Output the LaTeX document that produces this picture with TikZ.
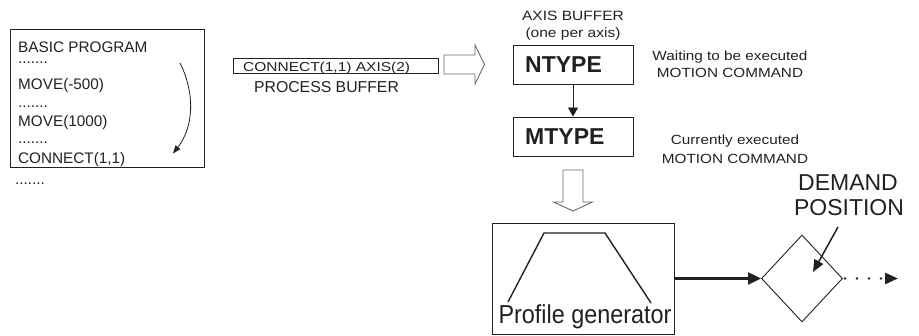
\documentclass[tikz,border=0pt]{standalone}
\usepackage{fontspec}
\setmainfont{Liberation Sans}
\newfontfamily\widesans[FakeStretch=1.15]{Liberation Sans}
\newfontfamily\widersans[FakeStretch=1.2]{Liberation Sans}
\newfontfamily\narrowsans[FakeStretch=0.9]{Liberation Sans}
\usetikzlibrary{shapes.geometric,arrows.meta}
\definecolor{ln}{gray}{0.13}
\definecolor{hollow}{gray}{0.42}
\newcommand{\myfs}[1]{\fontsize{#1pt}{#1pt}\selectfont}
\begin{document}
\begin{tikzpicture}[x=1pt,y=-1pt,
  every node/.style={text=ln},
  box/.style={draw=ln, line width=0.9pt, inner sep=0pt},
  progtxt/.style={anchor=base west, inner sep=0pt, font=\myfs{15.3}},
  lbl/.style={anchor=base, inner sep=0pt},
  thinarrow/.style={draw=ln, line width=0.9pt, -{Triangle[length=9pt,width=10pt]}},
  hollowarrow/.style={draw=hollow, line width=0.9pt, fill=white, line join=miter},
]
\useasboundingbox (0,0) rectangle (919,336);

% ---------- BASIC program ----------
\node[box, minimum width=194pt, minimum height=138pt] (prog) at (107,98) {};
\node[progtxt] (p1) at (18,52.3) {BASIC PROGRAM};
\node[progtxt] (p2) at (18,63.5) {.......};
\node[progtxt] (p3) at (18,90) {MOVE(-500)};
\node[progtxt] (p4) at (18,108) {.......};
\node[progtxt] (p5) at (18,126.7) {MOVE(1000)};
\node[progtxt] (p6) at (18,144) {.......};
\node[progtxt] (p7) at (18,163.3) {CONNECT(1,1)};
\node[progtxt] (p8) at (15,185) {.......};
\coordinate (cs) at (180,63);
\coordinate (ce) at (173,153.5);
\draw[draw=ln, line width=0.8pt, -{Triangle[length=8pt,width=6pt]}]
  (cs) .. controls (196,95) and (193,128) .. (ce);

% ---------- process buffer ----------
\node[box, minimum width=205pt, minimum height=14.5pt] (proc) at (335.5,66) {};
\node[anchor=base west, inner sep=0pt, font=\widersans\myfs{12.9}] (proctxt) at (243,71.6) {CONNECT(1,1) AXIS(2)};
\node[lbl, font=\myfs{15.8}] (pbl) at (326.5,92.7) {PROCESS BUFFER};

% hollow arrow to axis buffer
\coordinate (hr) at (444,64.5);
\draw[hollowarrow] (hr) ++(0,-9.5) -- ++(31,0) -- ++(0,-10) -- ++(9.5,19.5)
  -- ++(-9.5,19.5) -- ++(0,-10) -- ++(-31,0) -- cycle;

% ---------- axis buffer ----------
\node[lbl, font=\widesans\myfs{13.5}] (ab1) at (573,20.7) {AXIS BUFFER};
\node[lbl, font=\widesans\myfs{13.5}] (ab2) at (573,37.3) {(one per axis)};
\node[box, minimum width=120pt, minimum height=39pt] (ntype) at (573,64.5) {};
\node[anchor=west, inner sep=0pt, font=\bfseries\myfs{23}] (ntxt) at (525,65) {NTYPE};
\node[box, minimum width=120pt, minimum height=39pt] (mtype) at (573,136.5) {};
\node[anchor=west, inner sep=0pt, font=\bfseries\myfs{23}] (mtxt) at (525,136.7) {MTYPE};
\draw[thinarrow] (ntype.south) -- (mtype.north);

\node[lbl, font=\widesans\myfs{13.3}] (w1) at (730,60.7) {Waiting to be executed};
\node[lbl, font=\widesans\myfs{13.3}] (w2) at (730,77.3) {MOTION COMMAND};
\node[lbl, font=\widesans\myfs{13.3}] (c1) at (735,144.3) {Currently executed};
\node[lbl, font=\widesans\myfs{13.3}] (c2) at (735,163.5) {MOTION COMMAND};

% hollow arrow down
\coordinate (hd) at (573,170);
\draw[hollowarrow] (hd) ++(-10,0) -- ++(20,0) -- ++(0,32) -- ++(9.5,0) -- ++(-19.5,9)
  -- ++(-19.5,-9) -- ++(9.5,0) -- cycle;

% ---------- profile generator ----------
\node[box, minimum width=182pt, minimum height=111pt] (prof) at (583,278.5) {};
\draw[draw=ln, line width=1.4pt, line join=miter]
  (508,302) -- (544,233) -- (605,233) -- (651,303);
\node[lbl, font=\narrowsans\myfs{26}] (proftxt) at (585,324) {Profile generator};

% ---------- demand position ----------
\node[draw=ln, line width=0.9pt, diamond, minimum width=81pt, minimum height=87pt, inner sep=0pt] (dia) at (802,278.5) {};
\draw[draw=ln, line width=2.2pt, -{Triangle[length=13pt,width=12pt]}] (prof.east) -- (dia.west);
\coordinate (dend) at (898,278.5);
\draw[draw=ln, line width=2.6pt, line cap=round, dash pattern=on 0pt off 12pt,
  -{Triangle[length=13pt,width=11pt]}] ([xshift=2pt]dia.east) -- (dend);
\node[lbl, font=\myfs{23}] (dm1) at (848,191) {DEMAND};
\node[lbl, font=\myfs{23}] (dm2) at (849,216) {POSITION};
\coordinate (das) at (838,227);
\coordinate (dae) at (813,272);
\draw[draw=ln, line width=1.5pt, -{Triangle[length=12pt,width=10pt]}] (das) -- (dae);
\end{tikzpicture}
\end{document}
